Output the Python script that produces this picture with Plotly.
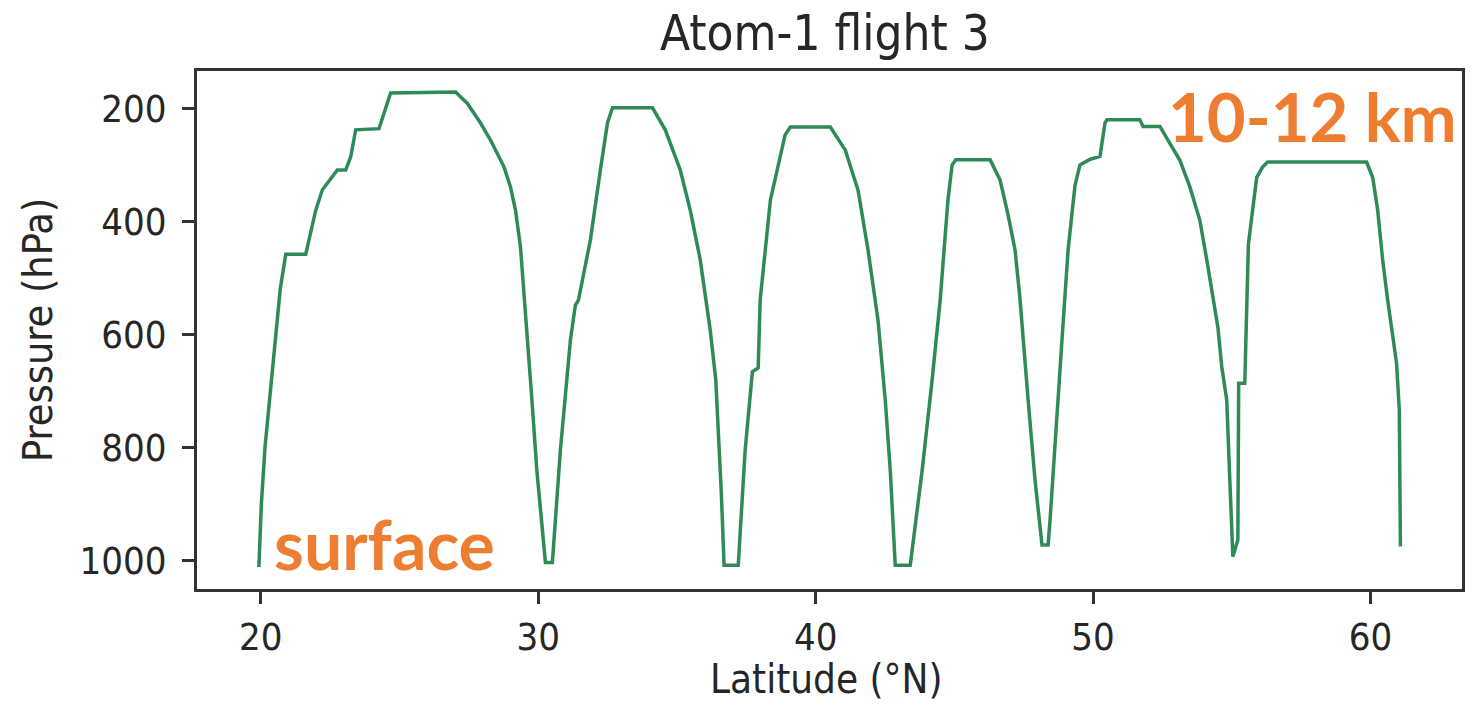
import plotly.graph_objects as go

latitude = [19.93, 20.02, 20.15, 20.3, 20.5, 20.7, 20.9, 21.62, 21.68, 21.98, 22.22, 22.40, 22.76, 23.06,
            23.24, 23.42, 24.26, 24.68, 27.02, 27.44, 27.92, 28.28, 28.76, 29.00, 29.18, 29.36, 29.55,
            29.75, 29.95, 30.15, 30.26, 30.51, 30.8, 31.16, 31.34, 31.45, 31.88, 32.24, 32.5, 32.68,
            34.12, 34.58, 35.12, 35.48, 35.84, 36.2, 36.4, 36.6, 36.7, 37.21, 37.46, 37.72, 37.93, 38.0,
            38.37, 38.9, 39.09, 40.53, 41.07, 41.53, 41.89, 42.25, 42.51, 42.69, 42.87, 43.41, 43.48,
            43.84, 44.2, 44.49, 44.77, 44.92, 45.05, 46.29, 46.65, 46.94, 47.19, 47.37, 47.66, 47.91,
            48.16, 48.38, 48.45, 48.63, 48.88, 49.1, 49.35, 49.53, 49.9, 50.25, 50.43, 50.5, 51.69,
            51.8, 52.41, 52.77, 53.13, 53.49, 53.85, 54.1, 54.5, 54.64, 54.82, 54.93, 55.04, 55.22,
            55.25, 55.47, 55.54, 55.6, 55.9, 56.11, 56.29, 59.86, 60.08, 60.26, 60.44, 60.62, 60.94,
            61.04, 61.08]
pressure = [1011, 900, 800, 720, 620, 520, 458, 458, 445, 380, 344, 333, 309, 309,
            286, 238, 236, 173, 171, 191, 226, 256, 303, 339, 380, 445, 560,
            700, 840, 950, 1003, 1003, 804, 610, 548, 539, 433, 309, 225, 199,
            199, 238, 309, 380, 468, 592, 680, 880, 1008, 1008, 804, 666, 659, 539,
            362, 247, 233, 233, 274, 345, 451, 575, 716, 840, 1008, 1008, 981,
            840, 680, 539, 362, 300, 291, 291, 327, 389, 451, 539, 716, 858,
            972, 972, 928, 787, 610, 451, 336, 300, 290, 285, 226, 220, 220,
            232, 232, 262, 292, 339, 398, 468, 587, 657, 716, 857, 993, 963,
            686, 686, 539, 440, 322, 304, 295, 295, 322, 380, 468, 539, 650,
            733, 975]

x_ticks = [20, 30, 40, 50, 60]
y_ticks = [200, 400, 600, 800, 1000]

title_text = "Atom-1 flight 3"
x_label = "Latitude (°N)"
y_label = "Pressure (hPa)"
note_top = "10-12 km"
note_bottom = "surface"

FONT = "DejaVu Sans Condensed"
TXT = "#262626"
W, H = 1481, 706
ML, MR, MT, MB = 197, 19, 71, 117
PW, PH = W - ML - MR, H - MT - MB


def px_x(x):
    return (x - ML) / PW


def px_y(y):
    return (H - MB - y) / PH


fig = go.Figure()
fig.add_trace(go.Scatter(x=latitude, y=pressure, mode="lines",
                         line=dict(color="#2E8B57", width=3.5), showlegend=False))

axis_common = dict(showgrid=False, zeroline=False, showline=True, linecolor="#333333",
                   linewidth=3, mirror=True, ticks="outside", ticklen=12, tickwidth=3,
                   tickcolor="#333333", automargin=False,
                   tickfont=dict(family=FONT, size=38, color=TXT))

fig.update_layout(
    width=W, height=H,
    margin=dict(l=ML, r=MR, t=MT, b=MB),
    paper_bgcolor="white", plot_bgcolor="white",
    title=dict(text=title_text, x=0.557, xanchor="center", y=0.953, yanchor="middle",
               font=dict(family=FONT, size=49, color=TXT)),
    xaxis=dict(range=[17.7, 63.3], tickvals=x_ticks, **axis_common),
    yaxis=dict(range=[1050, 134], tickvals=y_ticks, ticklabelstandoff=8, **axis_common),
    annotations=[
        dict(text=x_label, xref="paper", yref="paper", x=px_x(826), y=px_y(704),
             xanchor="center", yanchor="bottom", showarrow=False,
             font=dict(family=FONT, size=40, color=TXT)),
        dict(text=y_label, xref="paper", yref="paper", x=px_x(38), y=px_y(330),
             xanchor="center", yanchor="middle", showarrow=False, textangle=-90,
             font=dict(family=FONT, size=41, color=TXT)),
        dict(text=note_top, xref="paper", yref="paper", x=px_x(1459), y=px_y(116),
             xanchor="right", yanchor="middle", showarrow=False,
             font=dict(family="Lato", size=67, color="#ED7D31", weight="bold")),
        dict(text=note_bottom, xref="paper", yref="paper", x=px_x(272), y=px_y(543),
             xanchor="left", yanchor="middle", showarrow=False,
             font=dict(family="Lato", size=68, color="#ED7D31", weight="bold")),
    ],
)

fig.write_html("out.html")
